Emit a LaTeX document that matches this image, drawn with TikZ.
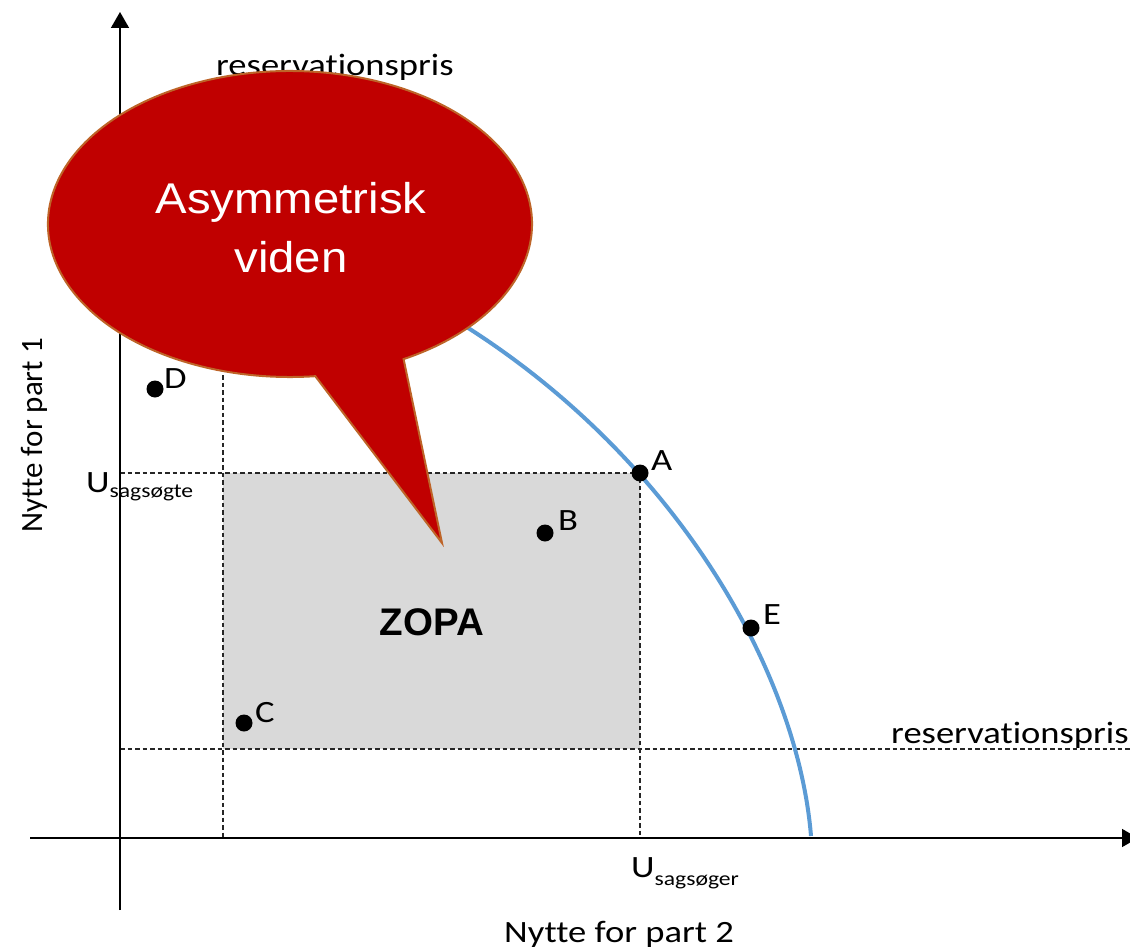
\documentclass[tikz,border=0pt]{standalone}
\usepackage{fontspec}
\setmainfont{Carlito}[FakeStretch=1.18, Ligatures=NoCommon]
\newfontfamily\straightfont{Carlito}[Ligatures=NoCommon]
\newfontfamily\balloonfont{Liberation Sans}[FakeStretch=1.1]
\newfontfamily\zopafont{Liberation Sans}
\usetikzlibrary{arrows.meta, calc, positioning}
\definecolor{zopagray}{RGB}{217,217,217}
\definecolor{frontierblue}{RGB}{91,155,213}
\definecolor{balloonred}{RGB}{192,0,0}
\definecolor{balloonedge}{RGB}{190,100,40}
\newcommand{\usub}[2]{U\raisebox{-#1pt}{\fontsize{20}{24}\selectfont #2}}

\begin{document}
\begin{tikzpicture}[x=1pt, y=-1pt,
	axis/.style={line width=1.5pt, -{Triangle[width=18pt,length=16pt]}},
	guide/.style={line width=1.1pt, dash pattern=on 4.5pt off 3pt, black!85},
	dot/.style={circle, fill, inner sep=0pt, minimum size=17pt},
	lbl/.style={font=\fontsize{31}{37}\selectfont, inner sep=0pt},
	frontier/.style={line width=4pt, frontierblue}]
				\useasboundingbox (0,0) rectangle (1130,950);
				
				\fill[zopagray] (223,473) rectangle (640,749);
				\node[font=\zopafont\bfseries\fontsize{38.5}{44}\selectfont, inner sep=0pt] (zopa) at (432,622) {ZOPA};
				
				\draw[guide] (223,90) -- (223,838);
				\draw[guide] (120,749) -- (1130,749);
				\draw[guide] (120,473) -- (640,473) -- (640,838);
				
				\draw[axis] (120,910) -- (120,12);
				\draw[axis] (30,838) -- (1138,838);
				
				\coordinate (fbottom) at (811,836);
				\coordinate (ftop) at (430,305);
				\draw[frontier] (fbottom) .. controls (797,665) and (665,438) .. (ftop);
				
				\node[dot] (D) at (155,389) {};
				\node[dot] (A) at (640,473) {};
				\node[dot] (B) at (545,533) {};
				\node[dot] (E) at (751,628) {};
				\node[dot] (C) at (244,723) {};
				\node[lbl, anchor=base west] at ($(D.center)+(9,-1)$) {D};
				\node[lbl, anchor=base west] at ($(A.center)+(11,-3)$) {A};
				\node[lbl, anchor=base west] at ($(B.center)+(13,-3)$) {B};
				\node[lbl, anchor=base west] at ($(E.center)+(12,-4)$) {E};
				\node[lbl, anchor=base west] at ($(C.center)+(11,-1)$) {C};
				
				\node[lbl, anchor=base west] (reshigh) at (216,75) {reservationspris};
				\node[lbl, anchor=base west] (reslow) at (891,743) {reservationspris};
				\node[lbl, anchor=base west] (usagsogte) at (86,492) {\usub{5}{sagsøgte}};
				\node[lbl, anchor=base west] (usagsoger) at (631,877) {\usub{8}{sagsøger}};
				\node[lbl, anchor=base] (xlabel) at (619,942) {Nytte for part 2};
				\node[lbl, font=\straightfont\fontsize{31}{37}\selectfont, anchor=base west, rotate=90] (ylabel) at (42,533) {Nytte for part 1};
				
				% callout
				\coordinate (tip) at (442,543);
				\coordinate (tailr) at (403.6,359.1);
				\draw[line width=2pt, draw=balloonedge, fill=balloonred, line join=miter]
					(tip) -- (tailr) arc[start angle=62, end angle=-276, x radius=242, y radius=153] -- cycle;
				\node[font=\balloonfont\fontsize{43}{59}\selectfont, text=white, align=center, inner sep=0pt] (asym) at (291,228) {Asymmetrisk\\viden};
				
				\end{tikzpicture}
\end{document}
